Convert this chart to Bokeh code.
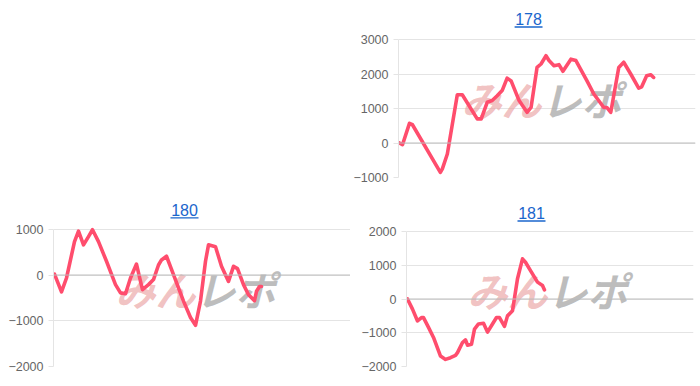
from bokeh.plotting import figure
from bokeh.layouts import column, row, Spacer
from bokeh.models import Range1d, FixedTicker, Span, Label
from bokeh.core.properties import value
from bokeh.embed import file_html
from bokeh.resources import INLINE

# ---- data (x = progress along the x axis, y = coin difference) ----
titles = ["178", "180", "181"]

x178 = [1, 4, 11, 14, 42, 44, 49, 59, 64, 79, 83, 89, 94, 99, 104, 109, 113, 121, 129, 133,
        139, 143, 148, 151, 156, 161, 165, 173, 178, 189, 196, 206, 209, 213, 221, 226, 233,
        241, 244, 249, 253, 256]
y178 = [0, -50, 570, 530, -850, -750, -320, 1400, 1400, 700, 700, 1180, 1230, 1370, 1520, 1880,
        1800, 1230, 890, 1030, 2190, 2290, 2530, 2390, 2240, 2270, 2080, 2430, 2390, 1810, 1420,
        1030, 1030, 890, 2190, 2340, 2000, 1590, 1630, 1950, 1980, 1900]

x180 = [1, 8, 13, 21, 25, 30, 35, 39, 45, 53, 62, 67, 72, 77, 83, 87, 89, 95, 100, 105, 108, 113,
        120, 130, 137, 142, 147, 152, 155, 162, 168, 175, 180, 184, 190, 195, 201, 203, 206, 208]
y180 = [20, -370, -65, 730, 960, 660, 840, 990, 730, 300, -210, -390, -410, -65, 240, -140, -320,
        -210, -100, 220, 330, 410, 10, -570, -930, -1100, -570, 300, 660, 620, 190, -140, 190, 140,
        -210, -430, -560, -355, -250, -250]

x181 = [1, 6, 11, 15, 17, 22, 27, 34, 39, 44, 49, 51, 56, 59, 61, 65, 68, 72, 77, 81, 86, 90, 93,
        98, 101, 106, 111, 116, 119, 124, 131, 136, 138]
y181 = [0, -300, -650, -550, -550, -840, -1140, -1690, -1790, -1740, -1670, -1590, -1290, -1210,
        -1370, -1340, -890, -740, -720, -980, -740, -550, -550, -810, -500, -350, 600, 1190, 1090,
        840, 500, 400, 270]

x_max = [298, 297, 287]
y_lims = [(-1000, 3000), (-2000, 1000), (-2000, 2000)]
y_ticks = [[-1000, 0, 1000, 2000, 3000], [-2000, -1000, 0, 1000], [-2000, -1000, 0, 1000, 2000]]

LINE = "#ff4d6d"
GRID = "#e4e4e4"
ZERO = "#bdbdbd"
LINK = "#1a66cc"
FONT = "Liberation Sans"


def make_chart(title, xs, ys, xmax, ylim, ticks, w, h, bl, br, bb, top_px,
               title_cx, title_base, tw, wm):
    ymin, ymax = ylim
    frame_h = h - bb                      # frame reaches the top of the figure
    plot_px = frame_h - top_px            # pixels used by the data range
    upp = (ymax - ymin) / plot_px         # data units per pixel
    y_top = ymax + top_px * upp
    p = figure(width=w, height=h, output_backend="svg", toolbar_location=None,
               x_range=Range1d(0, xmax), y_range=Range1d(ymin, y_top),
               min_border_left=bl, min_border_right=br, min_border_top=0, min_border_bottom=bb)
    p.outline_line_color = None
    p.xaxis.visible = False
    p.xgrid.visible = False
    p.ygrid.grid_line_color = GRID
    p.yaxis.ticker = FixedTicker(ticks=ticks)
    p.yaxis.bounds = (ymin, ymax)
    p.yaxis.axis_line_color = GRID
    p.yaxis.major_tick_line_color = GRID
    p.yaxis.major_tick_out = 5
    p.yaxis.major_tick_in = 0
    p.yaxis.minor_tick_line_color = None
    p.yaxis.major_label_standoff = 5
    p.yaxis.major_label_text_font = FONT
    p.yaxis.major_label_text_font_size = "12.5px"
    p.yaxis.major_label_text_color = "#666666"

    p.add_layout(Span(location=0, dimension="width", line_color=ZERO, line_width=1))

    # link-style title with underline
    ty = ymax + (top_px - (title_base - 6.5)) * upp
    p.text(x=[title_cx], y=[ty], text=[title], text_font=value(FONT), text_font_size="16px",
           text_color=LINK, text_align="center", text_baseline="alphabetic")
    uy = ymax + (top_px - title_base - 1.5) * upp
    p.segment(x0=[title_cx - tw / 2], y0=[uy], x1=[title_cx + tw / 2], y1=[uy],
              line_color=LINK, line_width=1.3)

    # watermark
    wx, wy = wm
    p.add_layout(Label(x=wx, y=wy, x_units="screen", y_units="screen", text="みん",
                       text_font="Noto Sans CJK JP", text_font_size="40px",
                       text_font_style="bold italic", text_color="#eaa0a0", text_alpha=0.65,
                       text_baseline="middle", level="underlay"))
    p.add_layout(Label(x=wx + 80, y=wy, x_units="screen", y_units="screen", text="レポ",
                       text_font="Noto Sans CJK JP", text_font_size="40px",
                       text_font_style="bold italic", text_color="#a8a8a8", text_alpha=0.75,
                       text_baseline="middle", level="underlay"))

    p.line(xs, ys, line_color=LINE, line_width=3.6, line_join="round", line_cap="round")
    return p


p178 = make_chart(titles[0], x178, y178, x_max[0], y_lims[0], y_ticks[0],
                  350, 190, 47, 5, 13, 39, 130.5, 25, 28, (63, 79))
p180 = make_chart(titles[1], x180, y180, x_max[1], y_lims[1], y_ticks[1],
                  350, 196, 53, 0, 19, 39, 131, 26, 28, (62, 78))
p181 = make_chart(titles[2], x181, y181, x_max[2], y_lims[2], y_ticks[2],
                  350, 196, 56, 7, 20, 41, 125, 29, 28, (61, 77))

layout = column(row(Spacer(width=350, height=190), p178), row(p180, p181))

open("out.html", "w").write(file_html(layout, INLINE))
